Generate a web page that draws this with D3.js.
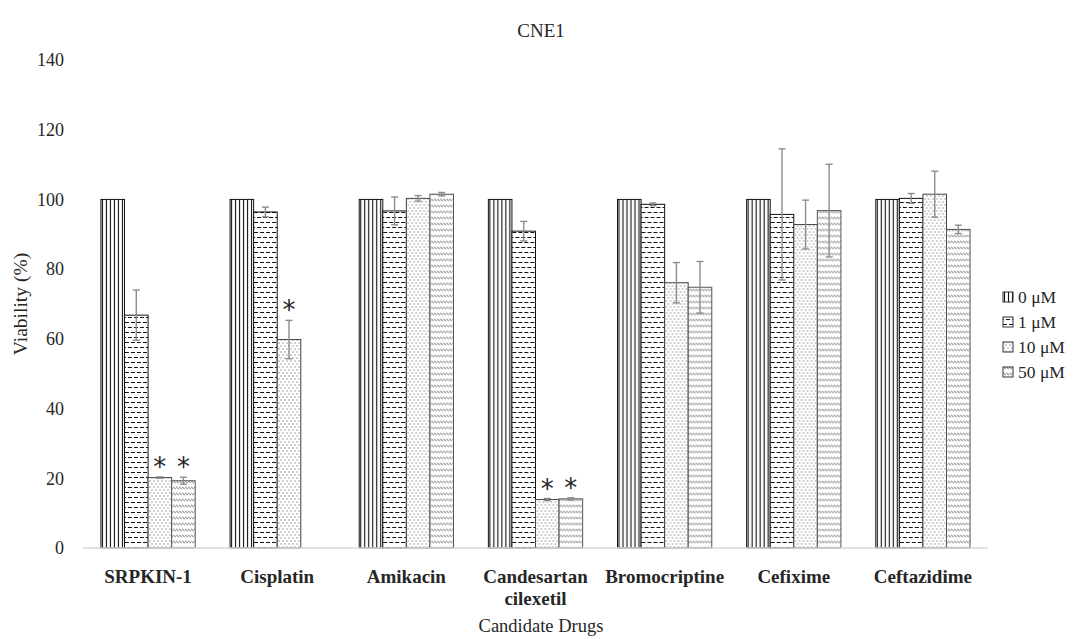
<!DOCTYPE html>
<html>
<head>
<meta charset="utf-8">
<script src="https://cdn.jsdelivr.net/npm/d3@7"></script>
<style>
  body { margin: 0; background: #fff; }
  text { font-family: "Palatino Linotype", "Book Antiqua", Palatino, "Liberation Serif", serif; fill: #262626; }
</style>
</head>
<body>
<svg id="chart" width="1082" height="639"></svg>
<script>
// Données
const drugs = ["SRPKIN-1", "Cisplatin", "Amikacin", "Candesartan cilexetil", "Bromocriptine", "Cefixime", "Ceftazidime"];
const doses = ["0 μM", "1 μM", "10 μM", "50 μM"];
const viab0  = [100, 100, 100, 100, 100, 100, 100];
const viab1  = [66.8, 96.4, 96.7, 90.9, 98.6, 95.7, 100.3];
const viab10 = [20.2, 59.8, 100.3, 13.9, 76.1, 92.8, 101.5];
const viab50 = [19.3, null, 101.5, 14.1, 74.8, 96.8, 91.4];
const err0   = [0, 0, 0, 0, 0, 0, 0];
const err1   = [7.2, 1.4, 4.0, 2.8, 0.4, 18.8, 1.4];
const err10  = [0.2, 5.5, 0.8, 0.3, 5.8, 7.0, 6.6];
const err50  = [1.0, null, 0.5, 0.3, 7.4, 13.3, 1.2];
// astérisques (significatif)
const sig10  = [true, true, false, true, false, false, false];
const sig50  = [true, false, false, true, false, false, false];
const yTicks = [0, 20, 40, 60, 80, 100, 120, 140];

const series = [viab0, viab1, viab10, viab50];
const errors = [err0, err1, err10, err50];
const sigs   = [null, null, sig10, sig50];

const svg = d3.select("#chart");

// Motifs de remplissage
const defs = svg.append("defs");
const mk = (id, w, h) => defs.append("pattern").attr("id", id)
  .attr("patternUnits", "userSpaceOnUse").attr("width", w).attr("height", h);

const p0 = mk("p0", 4, 4);
p0.append("rect").attr("width", 4).attr("height", 4).attr("fill", "#fff");
p0.append("line").attr("x1", 1.5).attr("x2", 1.5).attr("y1", 0).attr("y2", 4)
  .attr("stroke", "#111").attr("stroke-width", 1.1);

const p1 = mk("p1", 6, 10);
p1.append("rect").attr("width", 6).attr("height", 10).attr("fill", "#fff");
p1.append("line").attr("x1", 0).attr("x2", 4).attr("y1", 2.5).attr("y2", 2.5).attr("stroke", "#111").attr("stroke-width", 1);
p1.append("line").attr("x1", 3).attr("x2", 6).attr("y1", 7.5).attr("y2", 7.5).attr("stroke", "#111").attr("stroke-width", 1);
p1.append("line").attr("x1", 0).attr("x2", 1).attr("y1", 7.5).attr("y2", 7.5).attr("stroke", "#111").attr("stroke-width", 1);

const p2 = mk("p2", 4, 6);
p2.append("rect").attr("width", 4).attr("height", 6).attr("fill", "#fff");
p2.append("rect").attr("x", 0.5).attr("y", 0.5).attr("width", 1).attr("height", 1).attr("fill", "#444");
p2.append("rect").attr("x", 2.5).attr("y", 3.5).attr("width", 1).attr("height", 1).attr("fill", "#444");

const p3 = mk("p3", 3, 6);
p3.append("rect").attr("width", 3).attr("height", 6).attr("fill", "#fff");
p3.append("line").attr("x1", 0).attr("y1", 0.5).attr("x2", 3).attr("y2", 3.5)
  .attr("stroke", "#444").attr("stroke-width", 0.9);

const fills = ["url(#p0)", "url(#p1)", "url(#p2)", "url(#p3)"];
const strokes = ["#111", "#111", "#444", "#555"];

// Échelles
const x = d3.scaleBand().domain(drugs).range([83.5, 987.5]).paddingInner(0.27).paddingOuter(0.135);
const xs = d3.scaleBand().domain(d3.range(4)).range([0, x.bandwidth()]);
const y = d3.scaleLinear().domain([0, 140]).range([548, 60]);

// Titre
svg.append("text").attr("x", 541).attr("y", 37).attr("text-anchor", "middle")
  .style("font-size", "19px").text("CNE1");

// Axe Y (sans ligne)
const gy = svg.append("g").attr("transform", "translate(64,0)")
  .call(d3.axisLeft(y).tickValues(yTicks).tickSize(0).tickPadding(0));
gy.select(".domain").remove();
gy.selectAll("text").style("font-size", "18px").attr("fill", "#262626")
  .style("font-family", "\"Liberation Serif\", serif");

svg.append("text").attr("transform", "translate(27,304) rotate(-90)")
  .attr("text-anchor", "middle").style("font-size", "19.5px").text("Viability (%)");

// Barres
const gBars = svg.append("g");
drugs.forEach((d, i) => {
  const g = gBars.append("g").attr("transform", `translate(${x(d)},0)`);
  series.forEach((s, k) => {
    const v = s[i];
    if (v == null) return;
    g.append("rect")
      .attr("x", xs(k)).attr("width", xs.bandwidth())
      .attr("y", y(v)).attr("height", y(0) - y(v))
      .attr("fill", fills[k]).attr("stroke", strokes[k]).attr("stroke-width", 1);
  });
});

// Ligne de base
svg.append("line").attr("x1", 83).attr("x2", 988).attr("y1", y(0)).attr("y2", y(0))
  .attr("stroke", "#d9d9d9").attr("stroke-width", 1.5);

// Barres d'erreur et astérisques
const gErr = svg.append("g");
drugs.forEach((d, i) => {
  series.forEach((s, k) => {
    const v = s[i], e = errors[k][i];
    if (v == null) return;
    const cx = x(d) + xs(k) + xs.bandwidth() / 2;
    if (e > 0) {
      gErr.append("line").attr("x1", cx).attr("x2", cx).attr("y1", y(v - e)).attr("y2", y(v + e))
        .attr("stroke", "#8c8c8c").attr("stroke-width", 1.4);
      [v - e, v + e].forEach(t => gErr.append("line")
        .attr("x1", cx - 3.5).attr("x2", cx + 3.5).attr("y1", y(t)).attr("y2", y(t))
        .attr("stroke", "#8c8c8c").attr("stroke-width", 1.4));
    }
    if (sigs[k] && sigs[k][i]) {
      gErr.append("text").attr("x", cx).attr("y", y(v + e) - 1)
        .attr("text-anchor", "middle")
        .style("font-family", "\"DejaVu Sans\", sans-serif").style("font-size", "26px")
        .attr("fill", "#111").text("*");
    }
  });
});

// Étiquettes des catégories
const gx = svg.append("g");
drugs.forEach(d => {
  const words = d === "Candesartan cilexetil" ? ["Candesartan", "cilexetil"] : [d];
  const t = gx.append("text").attr("x", x(d) + x.bandwidth() / 2).attr("y", 583)
    .attr("text-anchor", "middle").style("font-size", "19px").style("font-weight", "bold");
  words.forEach((w, j) => t.append("tspan").attr("x", x(d) + x.bandwidth() / 2)
    .attr("dy", j ? 22 : 0).text(w));
});

svg.append("text").attr("x", 541).attr("y", 632).attr("text-anchor", "middle")
  .style("font-size", "18.5px").text("Candidate Drugs");

// Légende
const leg = svg.append("g").attr("transform", "translate(1003,297)");
doses.forEach((dz, k) => {
  const g = leg.append("g").attr("transform", `translate(0,${k * 25})`);
  g.append("rect").attr("x", 0).attr("y", -5).attr("width", 10).attr("height", 10)
    .attr("fill", fills[k]).attr("stroke", "#333").attr("stroke-width", 1);
  g.append("text").attr("x", 15).attr("y", 5.5).style("font-size", "17.5px").text(dz);
});
</script>
</body>
</html>
